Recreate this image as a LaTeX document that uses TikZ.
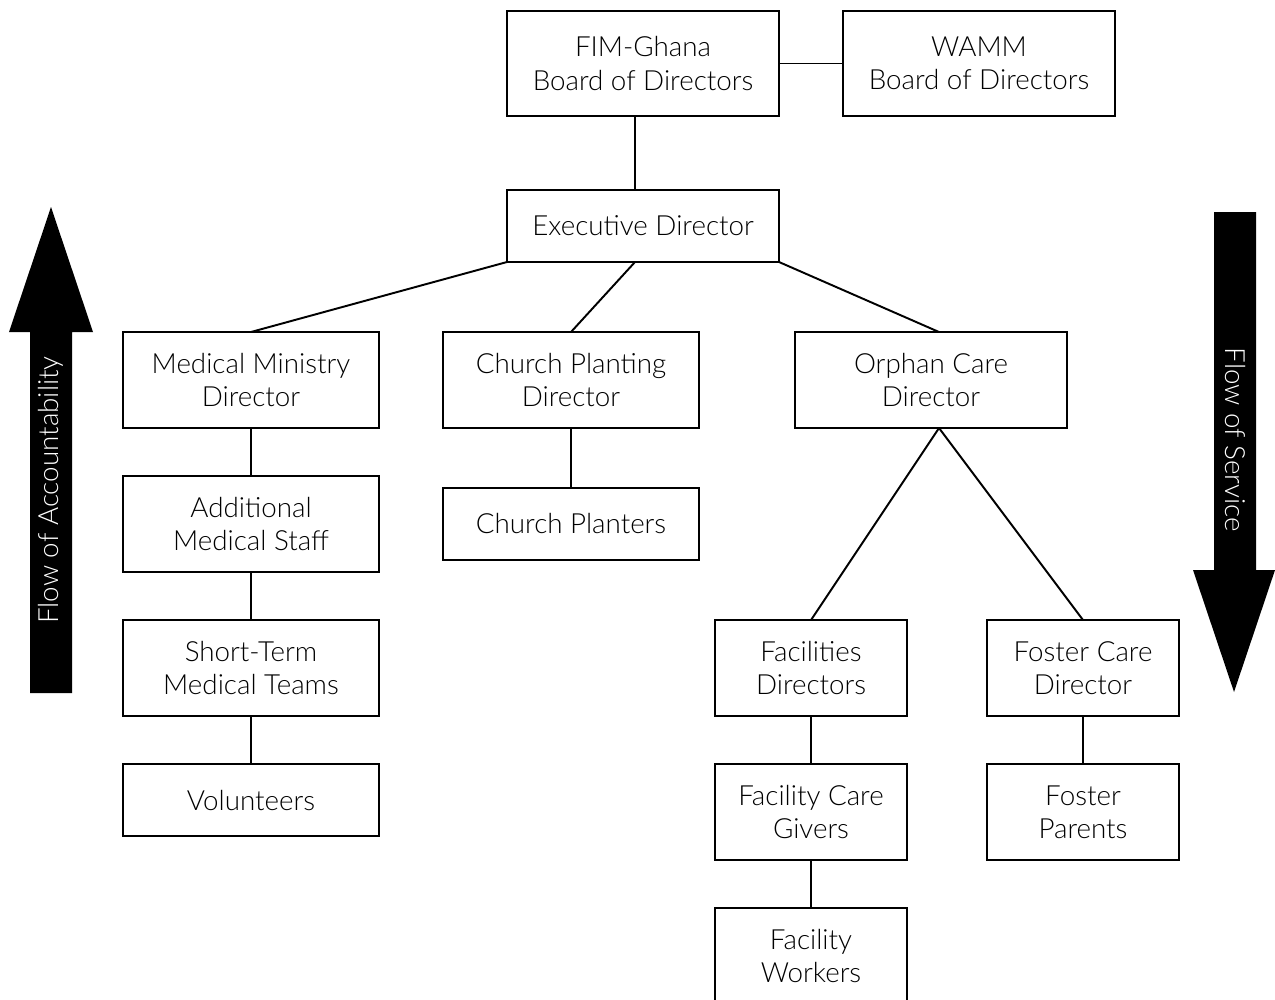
\documentclass[tikz,border=0pt]{standalone}
\usepackage{fontspec}
\setmainfont{Lato}[UprightFont=* Light]
\usetikzlibrary{positioning,calc}

\begin{document}
\begin{tikzpicture}[
  node distance=9.6mm and 12.8mm,
  box/.style={draw, line width=1.1pt, outer sep=0pt, align=center, minimum width=51.2mm, minimum height=19.2mm, inner sep=2pt, font=\fontsize{15.8}{19}\selectfont},
  widebox/.style={box, minimum width=54.4mm},
  narrowbox/.style={box, minimum width=38.4mm},
  lowbox/.style={minimum height=14.4mm},
  highbox/.style={minimum height=21mm},
  link/.style={line width=1.1pt},
  flow/.style={fill=black},
  flowtext/.style={text=white, font=\fontsize{15.8}{19}\selectfont}
]
\useasboundingbox (0,0) rectangle (25.5,-19.98);
\node[widebox, highbox] (fim) at (12.86,-1.27) {FIM-Ghana\\Board of Directors};
\node[widebox, highbox, right=12.8mm of fim] (wamm) {WAMM\\Board of Directors};
\node[widebox, lowbox, below=14.8mm of fim] (exec) {Executive Director};
\node[box] (medical) at (5.02,-7.6) {Medical Ministry\\Director};
\node[box, right=of medical] (church) {Church Planting\\Director};
\node[widebox, right=19.2mm of church] (orphan) {Orphan Care\\Director};
\node[box, below=of medical] (additional) {Additional\\Medical Staff};
\node[box, below=of additional] (shortterm) {Short-Term\\Medical Teams};
\node[box, lowbox, below=of shortterm] (volunteers) {Volunteers};
\node[box, lowbox, below=12mm of church] (planters) {Church Planters};
\node[narrowbox, below=38.4mm of orphan, xshift=-24mm] (facilities) {Facilities\\Directors};
\node[narrowbox, right=16mm of facilities] (foster) {Foster Care\\Director};
\node[narrowbox, below=of facilities] (caregivers) {Facility Care\\Givers};
\node[narrowbox, below=of caregivers] (workers) {Facility\\Workers};
\node[narrowbox, below=of foster] (parents) {Foster\\Parents};
\draw[link] (fim) -- (wamm);
\draw[link] ($(fim.south)+(-1.6mm,0)$) -- ($(exec.north)+(-1.6mm,0)$);
\draw[link] (exec.south west) -- (medical.north);
\draw[link] ($(exec.south)+(-1.6mm,0)$) -- (church.north);
\draw[link] (exec.south east) -- ($(orphan.north)+(1.6mm,0)$);
\draw[link] (medical) -- (additional);
\draw[link] (additional) -- (shortterm);
\draw[link] (shortterm) -- (volunteers);
\draw[link] (church) -- (planters);
\draw[link] ($(orphan.south)+(1.6mm,0)$) -- (facilities.north);
\draw[link] ($(orphan.south)+(1.6mm,0)$) -- (foster.north);
\draw[link] (facilities) -- (caregivers);
\draw[link] (caregivers) -- (workers);
\draw[link] (foster) -- (parents);
\fill[flow] (0.6,-13.86) -- (0.6,-6.64) -- (0.18,-6.64) -- (1.02,-4.14) -- (1.86,-6.64) -- (1.44,-6.64) -- (1.44,-13.86) -- cycle;
\node[flowtext, rotate=90] (accountability) at (1.02,-9.8) {Flow of Accountability};
\fill[flow] (24.28,-4.24) -- (24.28,-11.4) -- (23.86,-11.4) -- (24.68,-13.84) -- (25.5,-11.4) -- (25.12,-11.4) -- (25.12,-4.24) -- cycle;
\node[flowtext, rotate=-90] (service) at (24.7,-8.8) {Flow of Service};
\end{tikzpicture}
\end{document}
